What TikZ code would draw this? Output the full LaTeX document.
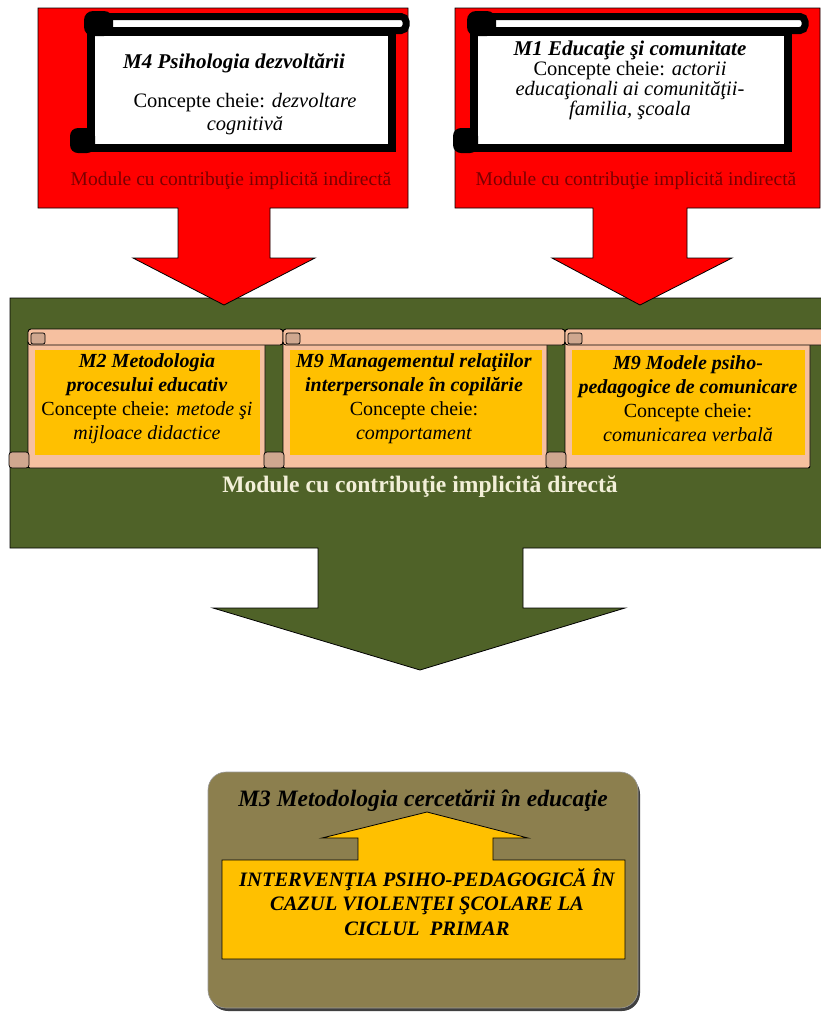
\documentclass[tikz,border=0pt]{standalone}
\usepackage{fontspec}
\setmainfont{Liberation Serif}
\definecolor{redc}{HTML}{FF0000}
\definecolor{greenc}{HTML}{4F6228}
\definecolor{peach}{HTML}{F6C0A0}
\definecolor{curlc}{HTML}{CFA78F}
\definecolor{yel}{HTML}{FFC000}
\definecolor{olive}{HTML}{8C7F4E}
\definecolor{darkred}{HTML}{7A0000}
\definecolor{cream}{HTML}{F2EFD8}
\newcommand\blkscroll[3]{%
  \draw[line width=8, fill=white] (#1,32) rectangle (#2,148);
  \draw[line width=7, fill=white, rounded corners=5] ({#1-1},16.5) rectangle (#3,30.5);
  \fill[black, rounded corners=9] ({#1-7},11) rectangle ({#1+22},36);
  \fill[black] ({#1-4},25) rectangle ({#1+4},60);
  \fill[black, rounded corners=8] ({#1-21},128) rectangle ({#1+4},153);
}
\newcommand\pchscroll[3]{%
  \draw[fill=peach, line width=0.9, rounded corners=2] (#1,340) -- (#1,468) -- (#2,468) -- (#2,340) -- cycle;
  \draw[fill=peach, line width=0.9, rounded corners=3] (#1,329) rectangle (#3,345);
  \draw[fill=curlc, line width=0.7, rounded corners=2] ({#1+3},333) rectangle ({#1+17},344);
  \draw[fill=curlc, line width=0.7, rounded corners=3] ({#1-19},452) rectangle ({#1+1},468);
  \fill[yel] ({#1+7},350) rectangle ({#2-5},455);
}
\begin{document}
\begin{tikzpicture}[x=1pt,y=-1pt,
  callout/.style={draw=black, line width=0.8},
  topbox/.style={align=center, text=black, font=\fontsize{20.5}{20}\selectfont},
  topttl/.style={text=black, font=\bfseries\itshape\fontsize{21}{22}\selectfont},
  scrtxt/.style={align=center, text=black, font=\fontsize{20}{24}\selectfont},
  redlab/.style={text=darkred, font=\fontsize{19.5}{22}\selectfont},
  greenlab/.style={text=cream, font=\bfseries\fontsize{23.6}{26}\selectfont},
  m3title/.style={text=black, font=\bfseries\itshape\fontsize{23.5}{26}\selectfont},
  m3body/.style={align=center, text=black, font=\bfseries\itshape\fontsize{20.5}{24.5}\selectfont}]
\useasboundingbox (0,0) rectangle (821,1013);
\clip (0,0) rectangle (821,1013);
\fill[white] (0,0) rectangle (821,1013);

% green callout (direct contribution)
\draw[callout, fill=greenc] (10,298) -- (830,298) -- (830,548) -- (523,548) -- (523,608) -- (625,608) -- (420,670) -- (213,608) -- (318,608) -- (318,548) -- (10,548) -- cycle;

% red callouts (indirect contribution)
\draw[callout, fill=redc] (38,8) -- (408,8) -- (408,208) -- (270,208) -- (270,258) -- (315,258) -- (224,305) -- (133,258) -- (178,258) -- (178,208) -- (38,208) -- cycle;
\draw[callout, fill=redc] (455,8) -- (820,8) -- (820,208) -- (687,208) -- (687,258) -- (732,258) -- (640,305) -- (552,258) -- (593,258) -- (593,208) -- (455,208) -- cycle;

% black scrolls
\blkscroll{91}{392}{406}
\blkscroll{474}{788}{805}

\node[topttl] (m4t) at (234,63) {M4 Psihologia dezvoltării};
\node[topbox] (m4c) at (245,114) {Concepte cheie: \textit{dezvoltare}\\[3pt]\textit{cognitivă}};
\node[topbox] (m1) at (630,80) {\textbf{\textit{\fontsize{21}{20}\selectfont M1 Educaţie şi comunitate}}\\Concepte cheie: \textit{actorii}\\\textit{educaţionali ai comunităţii-}\\\textit{familia, şcoala}};

\node[redlab] (red1) at (231,181) {Module cu contribuţie implicită indirectă};
\node[redlab] (red2) at (636,181) {Module cu contribuţie implicită indirectă};

% peach scrolls
\pchscroll{28}{265}{283}
\pchscroll{283}{547}{565}
\pchscroll{565}{810}{830}

\node[scrtxt] (m2) at (147,399) {\textbf{\textit{M2 Metodologia}}\\\textbf{\textit{procesului educativ}}\\Concepte cheie: \textit{metode şi}\\\textit{mijloace didactice}};
\node[scrtxt] (m9a) at (414,399) {\textbf{\textit{M9 Managementul relaţiilor}}\\\textbf{\textit{interpersonale în copilărie}}\\Concepte cheie:\\\textit{comportament}};
\node[scrtxt] (m9b) at (688,399) {\textbf{\textit{M9 Modele psiho-}}\\\textbf{\textit{pedagogice de comunicare}}\\Concepte cheie:\\\textit{comunicarea verbală}};

\node[greenlab] (glab) at (420,487) {Module cu contribuţie implicită directă};

% bottom box
\fill[black!75, rounded corners=18] (210,776) rectangle (640,1011);
\draw[draw=black!40, line width=0.6, fill=olive, rounded corners=18] (208,772) rectangle (638,1008);
\draw[line width=0.8, fill=yel] (222,860) -- (358,860) -- (358,838) -- (322,838) -- (427,812) -- (528,838) -- (493,838) -- (493,860) -- (625,860) -- (625,959) -- (222,959) -- cycle;
\node[m3title] (m3) at (423,801) {M3 Metodologia cercetării în educaţie};
\node[m3body] (interv) at (427,902) {INTERVENŢIA PSIHO-PEDAGOGICĂ ÎN\\CAZUL VIOLENŢEI ŞCOLARE LA\\CICLUL\ \ PRIMAR};
\end{tikzpicture}
\end{document}
